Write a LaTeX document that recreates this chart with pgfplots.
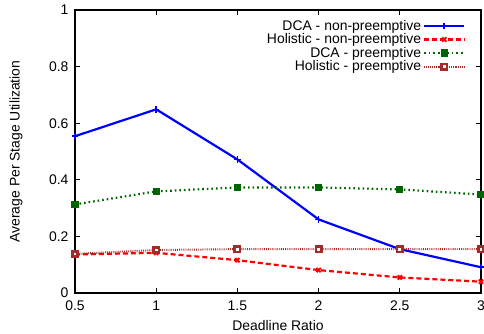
\documentclass[border=0pt]{standalone}
\usepackage{fontspec}
\setmainfont{Liberation Sans}
\usepackage{pgfplots}
\pgfplotsset{compat=1.18}
\definecolor{dcablue}{RGB}{0,0,255}
\definecolor{holred}{RGB}{255,0,0}
\definecolor{dcagreen}{RGB}{0,100,0}
\definecolor{holbrown}{RGB}{165,42,42}
\pgfdeclareplotmark{hsq}{%
  \pgfsetfillcolor{holbrown}%
  \pgfpathrectangle{\pgfpoint{-\pgfplotmarksize}{-\pgfplotmarksize}}{\pgfpoint{2\pgfplotmarksize}{2\pgfplotmarksize}}%
  \pgfusepath{fill}%
  \pgfsetfillcolor{white}%
  \pgfpathrectangle{\pgfpoint{-0.35\pgfplotmarksize}{-0.35\pgfplotmarksize}}{\pgfpoint{0.7\pgfplotmarksize}{0.7\pgfplotmarksize}}%
  \pgfusepath{fill}%
}
\begin{document}
\begin{tikzpicture}
\begin{axis}[
  at={(0,0)}, anchor=south west,
  scale only axis, width=406bp, height=283bp,
  xmin=0.5, xmax=3, ymin=0, ymax=1,
  xtick={0.5,1,1.5,2,2.5,3},
  ytick={0,0.2,0.4,0.6,0.8,1},
  xticklabels={0.5,1,1.5,2,2.5,3},
  yticklabels={0,0.2,0.4,0.6,0.8,1},
  tick align=inside, major tick length=5bp,
  tick style={black, line width=0.7pt},
  axis line style={black, line width=1.1pt},
  font=\fontsize{14}{15}\selectfont,
  tick label style={font=\fontsize{14}{15}\selectfont},
  xticklabel style={yshift=-4bp},
  yticklabel style={xshift=-3bp},
  xlabel={Deadline Ratio},
  ylabel={Average Per Stage Utilization},
  every axis x label/.style={at={(axis description cs:0.5,-0.1166)}, anchor=center},
  every axis y label/.style={at={(axis description cs:-0.1453,0.5)}, rotate=90, anchor=center},
  legend style={draw=none, fill=none, at={(axis description cs:0.962,0.972)}, anchor=north east,
    font=\fontsize{14}{13}\selectfont, row sep=-2bp, inner sep=0pt},
  legend cell align=right,
  legend plot pos=right,
  legend image code/.code={\draw[mark=none] (0bp,0bp) -- (40bp,0bp); \draw plot coordinates {(20bp,0bp)};},
]
\addplot[dcablue, line width=2.2pt, mark=+, mark size=3.2pt, mark options={solid, line width=1.6pt}] coordinates {
 (0.5,0.554) (1,0.649) (1.5,0.472) (2,0.260) (2.5,0.155) (3,0.091)};
\addlegendentry{DCA - non-preemptive}
\addplot[holred, line width=2.2pt, dash pattern=on 5pt off 3pt, mark=x, mark size=3pt, mark options={solid, line width=2pt}] coordinates {
 (0.5,0.136) (1,0.142) (1.5,0.116) (2,0.081) (2.5,0.055) (3,0.040)};
\addlegendentry{Holistic - non-preemptive}
\addplot[dcagreen, line width=2.2pt, dash pattern=on 1.6pt off 3pt, mark=square*, mark size=3.2pt, mark options={solid, line width=1pt}] coordinates {
 (0.5,0.313) (1,0.359) (1.5,0.373) (2,0.373) (2.5,0.366) (3,0.348)};
\addlegendentry{DCA - preemptive}
\addplot[holbrown, line width=2pt, dash pattern=on 0.8pt off 1.1pt, mark=hsq, mark size=4pt, mark options={solid}] coordinates {
 (0.5,0.138) (1,0.152) (1.5,0.155) (2,0.155) (2.5,0.155) (3,0.155)};
\addlegendentry{Holistic - preemptive}
\end{axis}
\pgfresetboundingbox
\useasboundingbox (-75bp,-41bp) rectangle (409bp,293bp);
\end{tikzpicture}
\end{document}
